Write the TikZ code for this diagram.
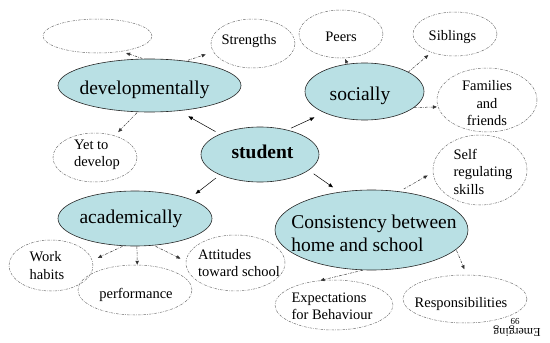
\documentclass[tikz,border=0pt]{standalone}
\usepackage{fontspec}
\setmainfont{Liberation Serif}
\usetikzlibrary{shapes.geometric,arrows.meta}
\definecolor{bubblefill}{HTML}{B9E0E4}
\definecolor{rimgray}{HTML}{707070}
\begin{document}
\begin{tikzpicture}[x=1pt,y=-1pt,
  hub/.style={ellipse, draw=black!85, line width=0.6pt, fill=bubblefill, inner sep=0pt},
  leaf/.style={ellipse, draw=rimgray, line width=0.5pt,
    dash pattern=on 2.5pt off 1.2pt on 0.6pt off 1.2pt, inner sep=0pt},
  bigtext/.style={font=\fontsize{19.5}{23.3}\selectfont, align=left, inner sep=0pt},
  boldtext/.style={font=\fontsize{19.5}{23.3}\selectfont\bfseries, inner sep=0pt},
  smalltext/.style={font=\fontsize{14.5}{17.5}\selectfont, align=left, inner sep=0pt},
  main/.style={draw=black, line width=0.5pt, -{Triangle[length=4.5pt,width=3.6pt]}},
  side/.style={draw=black!80, line width=0.5pt,
    dash pattern=on 2.5pt off 1.2pt on 0.6pt off 1.2pt,
    -{Triangle[length=4pt,width=3.4pt]}},
]
\useasboundingbox (0,0) rectangle (550,343);

% central node
\node[hub, minimum width=118pt, minimum height=55pt] (stu) at (260,154.5) {};
\node[boldtext, xshift=2.5pt, yshift=2.5pt] (stuT) at (stu) {student};

% developmental branch
\node[hub, minimum width=183pt, minimum height=53pt] (dev) at (149.5,85.5) {};
\node[bigtext, xshift=-5pt, yshift=-4pt] (devT) at (dev) {developmentally};
\node[leaf, minimum width=109pt, minimum height=34pt] (blank) at (97.5,36) {};
\node[leaf, minimum width=84pt, minimum height=49pt] (str) at (253,43.5) {};
\node[smalltext, xshift=-4pt, yshift=2pt] (strT) at (str) {Strengths};
\node[leaf, minimum width=84pt, minimum height=49pt] (yet) at (95,157.5) {};
\node[smalltext, xshift=2pt, yshift=2.5pt] (yetT) at (yet) {Yet to\\develop};

% social branch
\node[hub, minimum width=119pt, minimum height=57pt] (soc) at (364.5,91.5) {};
\node[bigtext, xshift=-4.5pt, yshift=-4.5pt] (socT) at (soc) {socially};
\node[leaf, minimum width=84pt, minimum height=48pt] (peers) at (341,34) {};
\node[smalltext, yshift=-3pt] (peersT) at (peers) {Peers};
\node[leaf, minimum width=84pt, minimum height=44pt] (sib) at (455,34) {};
\node[smalltext, xshift=-2.5pt, yshift=-3pt] (sibT) at (sib) {Siblings};
\node[leaf, minimum width=100pt, minimum height=64pt] (fam) at (487,100) {};
\node[smalltext, align=center, yshift=-3.5pt] (famT) at (fam) {Families\\and\\friends};

% academic branch
\node[hub, minimum width=154pt, minimum height=55pt] (acad) at (135,218.5) {};
\node[bigtext, xshift=-4pt] (acadT) at (acad) {academically};
\node[leaf, minimum width=84pt, minimum height=51pt] (work) at (51,265.5) {};
\node[smalltext, xshift=-4pt] (workT) at (work) {Work\\habits};
\node[leaf, minimum width=114pt, minimum height=50pt] (perf) at (135,290) {};
\node[smalltext, xshift=1pt, yshift=-4.5pt] (perfT) at (perf) {performance};
\node[leaf, minimum width=99pt, minimum height=56pt] (att) at (235.5,263) {};
\node[smalltext, xshift=3.5pt] (attT) at (att) {Attitudes\\toward school};

% home--school branch
\node[hub, minimum width=193pt, minimum height=80pt] (cons) at (371.5,230) {};
\node[bigtext, xshift=2.5pt, yshift=-3pt] (consT) at (cons) {Consistency between\\home and school};
\node[leaf, minimum width=94pt, minimum height=70pt] (self) at (480,170) {};
\node[smalltext, xshift=3pt, yshift=-1.5pt] (selfT) at (self) {Self\\regulating\\skills};
\node[leaf, minimum width=124pt, minimum height=48pt] (resp) at (465,299) {};
\node[smalltext, xshift=-4pt, yshift=-5pt] (respT) at (resp) {Responsibilities};
\node[leaf, minimum width=118pt, minimum height=50pt] (expect) at (334,305) {};
\node[smalltext, xshift=-2pt, yshift=-1.5pt] (expectT) at (expect) {Expectations\\for Behaviour};

% footer, printed upside down
\node[rotate=180, inner sep=0pt, font=\fontsize{9}{11}\selectfont] (pgno) at (515,321) {99};
\node[rotate=180, inner sep=0pt, font=\fontsize{12}{14}\selectfont] (emerg) at (517,331.5) {Emerging};

% links from the centre
\draw[main, shorten <=5pt, shorten >=11pt] (stu.153) -- (dev.-41);
\draw[main, shorten <=4pt, shorten >=11pt] (stu.42) -- (soc.-152);
\draw[main, shorten <=5pt, shorten >=8pt] (stu.-153) -- (acad.20);
\draw[main, shorten <=6pt, shorten >=8pt] (stu.-18) -- (cons.130);

% links to the outer bubbles
\draw[side, shorten <=1pt, shorten >=5pt] (dev.103) -- (blank.-33);
\draw[side, shorten <=2pt, shorten >=8pt] (dev.34) -- (str.192);
\draw[side, shorten <=1pt, shorten >=5pt] (dev.-114) -- (yet.48);
\draw[side, shorten >=1pt] (soc.122) -- (peers.-81);
\draw[side, shorten >=4pt] (soc.24) -- (sib.218);
\draw[side, shorten >=1pt] (soc.-18) -- (fam.188);
\draw[side, shorten <=5pt, shorten >=6pt] (cons.54) -- (self.183);
\draw[side, shorten <=1pt, shorten >=6pt] (cons.-13) -- (resp.86);
\draw[side] (cons.-102) -- (expect.119);
\draw[side, shorten <=1pt, shorten >=6pt] (acad.-113) -- (work.7);
\draw[side] (acad.-86) -- (perf.85);
\draw[side, shorten <=2pt, shorten >=6pt] (acad.-55) -- (att.178);
\end{tikzpicture}
\end{document}
